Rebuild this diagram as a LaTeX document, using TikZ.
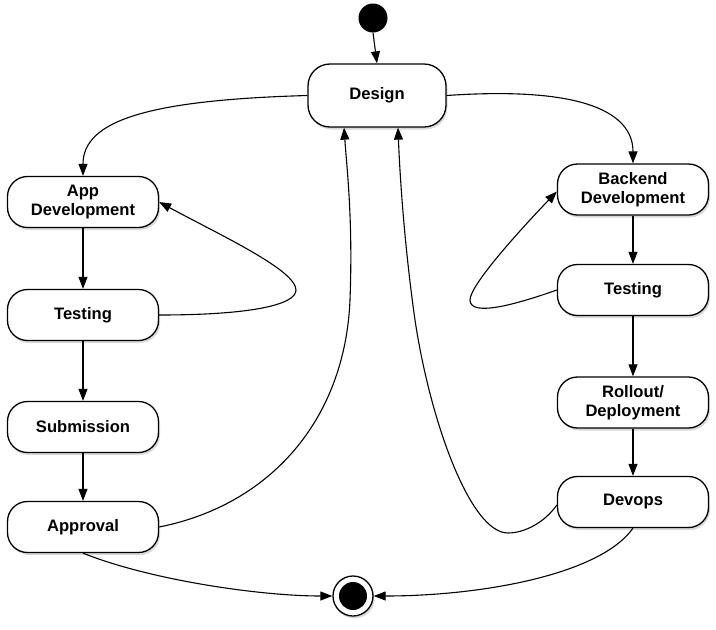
\documentclass[tikz,border=0pt]{standalone}
\usepackage{fontspec}
\setmainfont{Liberation Sans}
\usetikzlibrary{arrows.meta,shadows}
\begin{document}
\begin{tikzpicture}[x=1pt,y=-1pt,
  state/.style={draw, line width=1.3pt, rounded corners=20pt, fill=white,
    minimum width=151pt, minimum height=51pt, align=center, inner sep=0pt,
    font=\fontsize{16.6}{19}\selectfont\bfseries,
    drop shadow={shadow xshift=1.5pt, shadow yshift=-2.5pt, opacity=0.3}},
  conn/.style={line width=1.1pt, -{Triangle[length=12pt,width=9pt]}},
]
\useasboundingbox (0,0) rectangle (716,630);

% states
\node[state, minimum width=138pt, minimum height=63pt, rounded corners=22pt] (design) at (377,95.5) {Design};
\node[state] (appdev) at (83,202) {App\\Development};
\node[state] (testL) at (83,315) {Testing};
\node[state] (submission) at (83,427) {Submission};
\node[state] (approval) at (83,527) {Approval};
\node[state] (backend) at (633,189.5) {Backend\\Development};
\node[state] (testR) at (633,290) {Testing};
\node[state] (rollout) at (633,402.5) {Rollout/\\Deployment};
\node[state] (devops) at (633,502) {Devops};

% start and end
\node[circle, fill=black, minimum size=29pt, inner sep=0pt] (start) at (373,18) {};
\node[circle, draw, line width=1.3pt, fill=white, minimum size=40pt, inner sep=0pt,
  drop shadow={shadow xshift=1.5pt, shadow yshift=-2.5pt, opacity=0.3}] (end) at (353,596) {};
\node[circle, fill=black, minimum size=28pt, inner sep=0pt] (endin) at (end) {};

% connectors
\draw[conn] (start.south) -- (design.north);
\draw[conn] (design.west) .. controls (150,100) and (83,120) .. (appdev.north);
\draw[conn] (design.east) .. controls (600,85) and (633,120) .. (backend.north);

\draw[conn] (appdev) -- (testL);
\draw[conn] (testL) -- (submission);
\draw[conn] (submission) -- (approval);
\draw[conn] (backend) -- (testR);
\draw[conn] (testR) -- (rollout);
\draw[conn] (rollout) -- (devops);

\draw[conn] (testL.east) .. controls (250,315) and (296,305) .. (296,290)
  .. controls (296,270) and (220,235) .. (appdev.east);
\draw[conn] (testR.west) .. controls (520,303) and (470,318) .. (470,300)
  .. controls (470,285) and (520,230) .. ([yshift=-2pt]backend.west);

\draw[conn] (approval.east) .. controls (270,505) and (345,420) .. (350,300)
  .. controls (353,220) and (347,170) .. ([xshift=-33pt]design.south);
\draw[conn] ([yshift=-3pt]devops.west) .. controls (545,522) and (525,533) .. (508,533)
  .. controls (470,533) and (430,420) .. (415,320)
  .. controls (405,250) and (400,180) .. ([xshift=21pt]design.south);

\draw[conn] (approval.south) .. controls (150,580) and (260,596) .. (end.west);
\draw[conn] (devops.south) .. controls (600,575) and (480,596) .. (end.east);
\end{tikzpicture}
\end{document}
